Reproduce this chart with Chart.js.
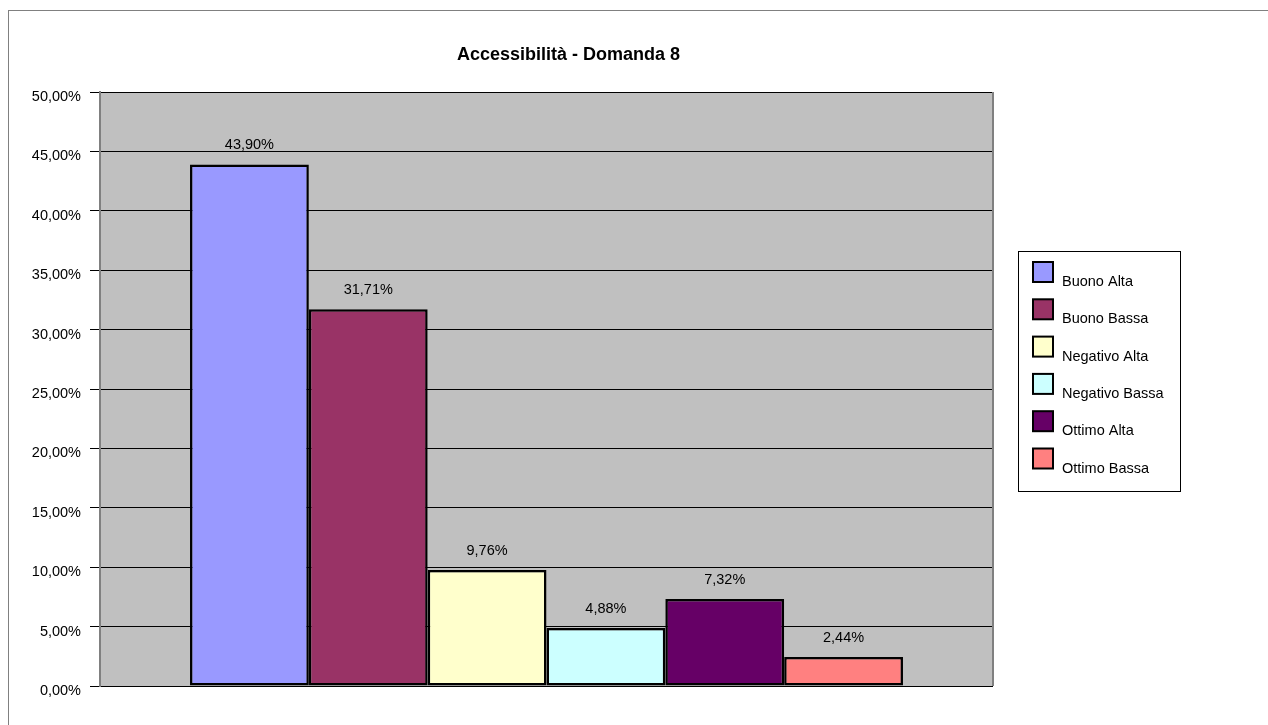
<!DOCTYPE html>
<html>
<head>
<meta charset="utf-8">
<script src="https://cdn.jsdelivr.net/npm/chart.js@4/dist/chart.umd.min.js"></script>
<style>
    html, body { margin: 0; padding: 0; background: #fff; }
    canvas { display: block; }
</style>
</head>
<body>
<canvas id="chartAccess" width="1268" height="725"></canvas>
<script>
(function() {
    'use strict';

    var titolo = 'Accessibilità - Domanda 8';
    var categorie = [''];
    var serie = ['Buono Alta', 'Buono Bassa', 'Negativo Alta', 'Negativo Bassa', 'Ottimo Alta', 'Ottimo Bassa'];
    var valori = [43.90, 31.71, 9.76, 4.88, 7.32, 2.44];
    var colori = ['#9999FF', '#993366', '#FFFFCC', '#CCFFFF', '#660066', '#FF8080'];
    var yTicks = [0, 5, 10, 15, 20, 25, 30, 35, 40, 45, 50];

    var FONT = '"Liberation Sans", Arial, sans-serif';

    function fmt(v) {
        return v.toFixed(2).replace('.', ',') + '%';
    }

    // sfondo grigio dell'area del grafico + cornice esterna
    var sfondo = {
        id: 'sfondo',
        beforeDraw: function(chart) {
            var c = chart.ctx, a = chart.chartArea;
            c.save();
            c.strokeStyle = '#808080';
            c.lineWidth = 1;
            c.strokeRect(8.5, 10.5, 1400, 1000);
            c.fillStyle = '#C0C0C0';
            c.fillRect(a.left, a.top, a.right - a.left, a.bottom - a.top);
            c.restore();
        },
        afterDraw: function(chart) {
            var c = chart.ctx, a = chart.chartArea;
            c.save();
            c.strokeStyle = '#808080';
            c.lineWidth = 2;
            c.beginPath();
            c.moveTo(a.right, a.top);
            c.lineTo(a.right, a.bottom);
            c.stroke();

            // titolo
            c.fillStyle = '#000';
            c.font = 'bold 18px ' + FONT;
            c.textAlign = 'center';
            c.textBaseline = 'middle';
            c.fillText(titolo, a.left + (a.right - a.left) / 2 + 22, 55);

            // legenda con riquadro
            var lx = a.right + 25, ly = 251, lw = 162, lh = 240;
            c.fillStyle = '#fff';
            c.fillRect(lx, ly, lw, lh);
            c.strokeStyle = '#000';
            c.lineWidth = 1;
            c.strokeRect(lx + 0.5, ly + 0.5, lw, lh);
            c.font = '14.5px ' + FONT;
            c.textAlign = 'left';
            chart.data.datasets.forEach(function(ds, i) {
                var sy = ly + 11 + i * 37.3;
                c.fillStyle = ds.backgroundColor;
                c.fillRect(lx + 15, sy, 20, 20);
                c.strokeStyle = '#000';
                c.lineWidth = 2;
                c.strokeRect(lx + 15, sy, 20, 20);
                c.fillStyle = '#000';
                c.fillText(ds.label, lx + 44, sy + 20);
            });
            c.restore();
        },
        afterDatasetsDraw: function(chart) {
            var c = chart.ctx;
            c.save();
            c.fillStyle = '#000';
            c.font = '14.5px ' + FONT;
            c.textAlign = 'center';
            c.textBaseline = 'middle';
            chart.data.datasets.forEach(function(ds, i) {
                var bar = chart.getDatasetMeta(i).data[0];
                c.fillText(fmt(ds.data[0]), bar.x, bar.y - 19);
            });
            c.restore();
        }
    };

    var ctx = document.getElementById('chartAccess');
    new Chart(ctx, {
        type: 'bar',
        data: {
            labels: categorie,
            datasets: serie.map(function(nome, i) {
                return {
                    label: nome,
                    data: [valori[i]],
                    backgroundColor: colori[i],
                    borderColor: '#000',
                    borderWidth: 2.5,
                    borderSkipped: false
                };
            })
        },
        options: {
            responsive: false,
            animation: false,
            categoryPercentage: 0.7984,
            barPercentage: 1,
            layout: { padding: { top: 92, right: 275, bottom: 39, left: 0 } },
            plugins: {
                legend: { display: false },
                title: { display: false },
                tooltip: { enabled: false }
            },
            scales: {
                x: { display: false },
                y: {
                    min: 0,
                    max: 50,
                    afterFit: function(s) { s.width = 100; },
                    afterBuildTicks: function(s) {
                        s.ticks = yTicks.map(function(v) { return { value: v }; });
                    },
                    ticks: {
                        color: '#000',
                        padding: 9,
                        labelOffset: 5,
                        font: { family: FONT, size: 14.5 },
                        callback: function(v) { return fmt(v); }
                    },
                    grid: {
                        color: '#000',
                        lineWidth: 1,
                        tickLength: 10,
                        tickColor: '#000'
                    },
                    border: { color: '#808080', width: 2 }
                }
            }
        },
        plugins: [sfondo]
    });
})();
</script>
</body>
</html>
